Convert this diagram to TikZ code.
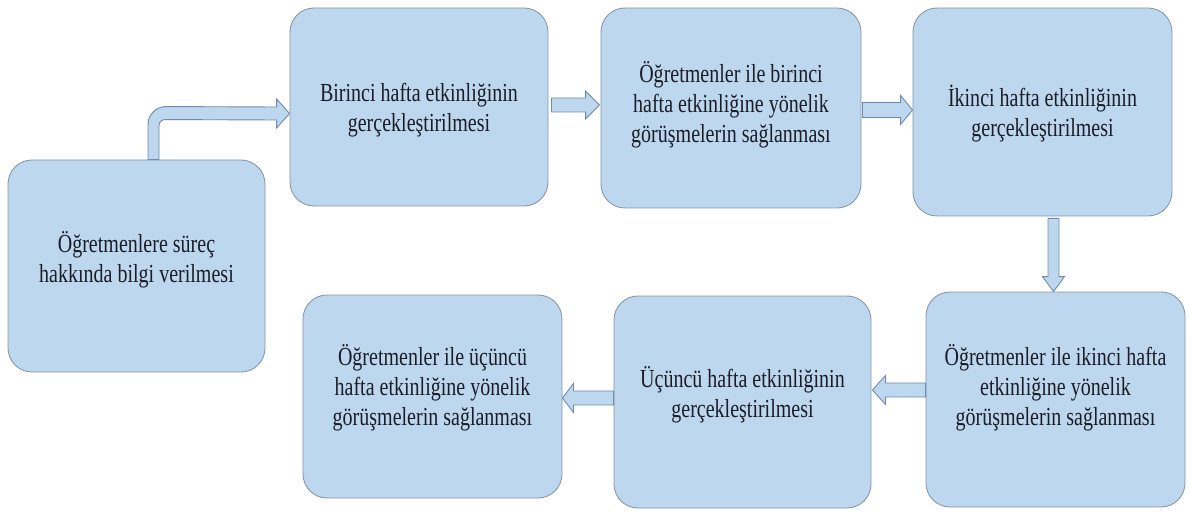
\documentclass[tikz,border=0pt]{standalone}
\usepackage{fontspec}
\setmainfont{Liberation Serif}[FakeStretch=0.77]
\usetikzlibrary{calc}
\definecolor{boxfill}{HTML}{BDD7EE}
\definecolor{boxline}{HTML}{8A98AC}
\definecolor{arrline}{HTML}{6F8CB0}
\definecolor{txt}{HTML}{1C1C28}
\newcommand{\hblock}[5]{%
  \draw[arr] ($(#1)+(0,#3)$) -- ($(#2)+(#5,#3)$) -- ($(#2)+(#5,#4)$) -- (#2)
    -- ($(#2)+(#5,-#4)$) -- ($(#2)+(#5,-#3)$) -- ($(#1)+(0,-#3)$) -- cycle;}
\newcommand{\vblock}[5]{%
  \draw[arr] ($(#1)+(#3,0)$) -- ($(#2)+(#3,#5)$) -- ($(#2)+(#4,#5)$) -- (#2)
    -- ($(#2)+(-#4,#5)$) -- ($(#2)+(-#3,#5)$) -- ($(#1)+(-#3,0)$) -- cycle;}
\begin{document}
\begin{tikzpicture}[x=1pt,y=1pt,
  box/.style={rectangle, draw=boxline, line width=0.9pt, fill=boxfill,
    rounded corners=24pt, inner sep=0pt},
  lbl/.style={inner sep=0pt, align=center, text=txt,
    font=\fontsize{26}{30}\selectfont},
  arr/.style={draw=arrline, line width=0.9pt, fill=boxfill, line join=miter}]
\useasboundingbox[fill=white] (0,0) rectangle (1190,512);

\node[box, minimum width=257pt, minimum height=212pt] (A) at (136.5,246) {};
\node[box, minimum width=258pt, minimum height=198pt] (B) at (419,405) {};
\node[box, minimum width=260pt, minimum height=200pt] (C) at (731,404) {};
\node[box, minimum width=259pt, minimum height=208pt] (D) at (1042.5,400) {};
\node[box, minimum width=259pt, minimum height=215pt] (E) at (1055.5,112.5) {};
\node[box, minimum width=257pt, minimum height=212pt] (F) at (742.5,110) {};
\node[box, minimum width=259pt, minimum height=203pt] (G) at (432.5,115.5) {};

\node[lbl] (At) at ($(A.center)+(0,6)$) {Öğretmenlere süreç\\hakkında bilgi verilmesi};
\node[lbl] (Bt) at ($(B.center)+(0,-3)$) {Birinci hafta etkinliğinin\\gerçekleştirilmesi};
\node[lbl] (Ct) at ($(C.center)+(0,3)$) {Öğretmenler ile birinci\\hafta etkinliğine yönelik\\görüşmelerin sağlanması};
\node[lbl] (Dt) at ($(D.center)+(0,-2)$) {İkinci hafta etkinliğinin\\gerçekleştirilmesi};
\node[lbl] (Et) at ($(E.center)+(0,11.5)$) {Öğretmenler ile ikinci hafta\\etkinliğine yönelik\\görüşmelerin sağlanması};
\node[lbl] (Ft) at ($(F.center)+(0,7)$) {Üçüncü hafta etkinliğinin\\gerçekleştirilmesi};
\node[lbl] (Gt) at ($(G.center)+(0,9)$) {Öğretmenler ile üçüncü\\hafta etkinliğine yönelik\\görüşmelerin sağlanması};

% bent arrow A -> B
\coordinate (S) at ($(A.north)+(11.5,0)$);
\coordinate (T) at ($(B.west)+(0,-6.5)$);
\draw[arr] (S) -- ++(0,35) arc[start angle=180,end angle=90,radius=18]
  -- ($(T)+(-13,6.5)$) -- ($(T)+(-13,14.5)$) -- (T) -- ($(T)+(-13,-14.5)$)
  -- ($(T)+(-13,-6.5)$) -- ($(S)+(17,40)$) arc[start angle=90,end angle=180,radius=6]
  -- ($(S)+(11,0)$) -- cycle;

% B -> C
\coordinate (bc1) at ($(B.east)+(3,2)$);
\coordinate (bc2) at ($(bc1 -| C.west)+(-1,0)$);
\hblock{bc1}{bc2}{7}{14}{-14}
% C -> D
\coordinate (cd1) at ($(C.east)+(1,-2)$);
\coordinate (cd2) at (cd1 -| D.west);
\hblock{cd1}{cd2}{7.5}{14.5}{-12}
% D -> E
\coordinate (de1) at ($(D.south)+(11,-2)$);
\coordinate (de2) at (de1 |- E.north);
\vblock{de1}{de2}{5.5}{11}{15}
% E -> F
\coordinate (ef1) at ($(E.west)+(0,9.5)$);
\coordinate (ef2) at ($(ef1 -| F.east)+(1,0)$);
\hblock{ef1}{ef2}{7}{14.5}{13}
% F -> G
\coordinate (fg1) at ($(F.west)+(0,4)$);
\coordinate (fg2) at (fg1 -| G.east);
\hblock{fg1}{fg2}{7}{14.5}{11}
\end{tikzpicture}
\end{document}
